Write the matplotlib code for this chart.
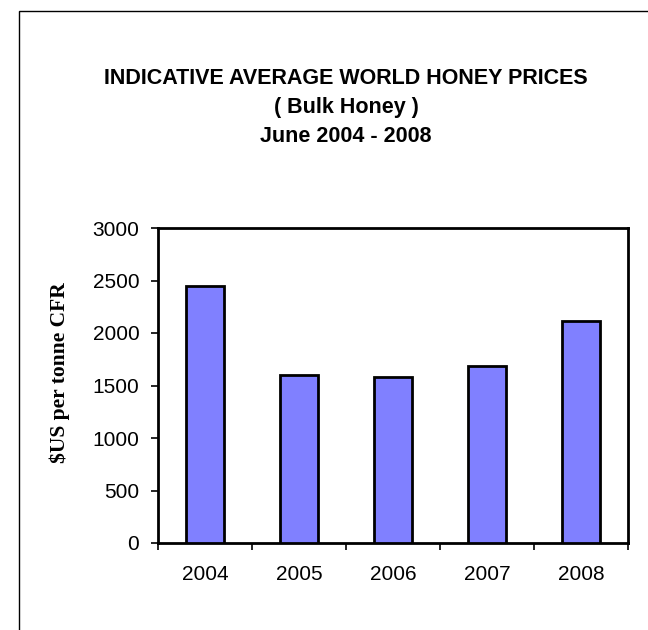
import numpy as np
import matplotlib.pyplot as plt
from matplotlib.patches import Rectangle


##################   Data  #########################

years = ['2004', '2005', '2006', '2007', '2008']
prices = [2445, 1600, 1582, 1685, 2112]
yticks = [0, 500, 1000, 1500, 2000, 2500, 3000]

bar_color = '#8080ff'


###############   Plot data    ########################

W, H = 648, 630
fig = plt.figure(figsize=(W/100., H/100.), dpi=100)

# outer chart frame (runs off the right and bottom edges)
fig.patches.append(Rectangle((19./W, -0.1), 1.2, 1 - 11./H + 0.1,
                             transform=fig.transFigure, fill=False,
                             edgecolor='black', linewidth=1.0))

ax = fig.add_axes([158./W, 87./H, 470./W, 315./H])
x = np.arange(len(years))
ax.bar(x, prices, width=0.4, color=bar_color, edgecolor='black', linewidth=2, zorder=3)

ax.set_xlim(-0.5, len(years) - 0.5)
ax.set_ylim(0, 3000)
ax.set_yticks(yticks)
ax.set_yticklabels([str(t) for t in yticks], fontsize=15, family='Liberation Sans')

# category labels centred, ticks on the boundaries
ax.set_xticks(x)
ax.set_xticklabels(years, fontsize=15, family='Liberation Sans')
ax.tick_params(axis='x', which='major', length=0, pad=16)
ax.set_xticks(np.arange(-0.5, len(years)), minor=True)
ax.tick_params(axis='x', which='minor', length=5, width=1.2, direction='out')
ax.tick_params(axis='y', length=5, width=1.2, direction='out', pad=8.5)

for s in ax.spines.values():
    s.set_linewidth(2)

ax.set_ylabel('$US per tonne CFR', fontsize=15.5, fontweight='bold',
              family='Liberation Serif')
ax.yaxis.set_label_coords((60 - 158) / 470., (543 - 373) / 315.)
ax.yaxis.label.set_va('center')

for txt, yy in [('INDICATIVE AVERAGE WORLD HONEY PRICES', 78),
                ('( Bulk Honey )', 108),
                ('June 2004 - 2008', 136)]:
    fig.text(346./W, 1 - yy/float(H), txt, ha='center', va='center',
             fontsize=15.5, fontweight='bold', family='Liberation Sans')

plt.savefig('out.png', dpi=100)
